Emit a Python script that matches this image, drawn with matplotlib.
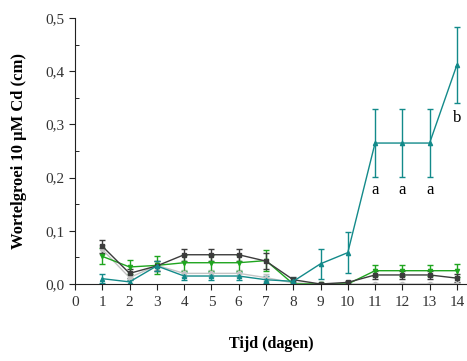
import numpy as np
import matplotlib
matplotlib.use("Agg")
import matplotlib.pyplot as plt
from matplotlib.ticker import FuncFormatter, MultipleLocator

plt.rcParams['font.family'] = ['Liberation Serif', 'DejaVu Serif']

dagen = [1, 2, 3, 4, 5, 6, 7, 8, 9, 10, 11, 12, 13, 14]

# light gray, circles
lichtgrijs = [0.065, 0.012, 0.035, 0.020, 0.020, 0.020, 0.012, 0.002, 0.0, 0.0, 0.0, 0.0, 0.0, 0.0]
lichtgrijs_err = [0.008, 0.005, 0.008, 0.006, 0.006, 0.006, 0.006, 0.003, 0.002, 0.002, 0.002, 0.002, 0.002, 0.002]

# green, down triangles
groen = [0.052, 0.032, 0.035, 0.040, 0.040, 0.040, 0.044, 0.0, 0.0, 0.0, 0.025, 0.025, 0.025, 0.025]
groen_err = [0.015, 0.014, 0.017, 0.015, 0.015, 0.015, 0.020, 0.002, 0.001, 0.001, 0.010, 0.010, 0.010, 0.012]

# dark gray, squares
donkergrijs = [0.071, 0.020, 0.034, 0.055, 0.055, 0.055, 0.043, 0.008, 0.0, 0.003, 0.017, 0.017, 0.017, 0.011]
donkergrijs_err = [0.012, 0.008, 0.010, 0.011, 0.011, 0.011, 0.015, 0.005, 0.001, 0.003, 0.008, 0.008, 0.008, 0.007]

# teal, up triangles
blauwgroen = [0.010, 0.004, 0.034, 0.015, 0.015, 0.015, 0.008, 0.005, 0.038, 0.059, 0.265, 0.265, 0.265, 0.412]
blauwgroen_err = [0.008, 0.004, 0.010, 0.007, 0.007, 0.007, 0.007, 0.006, 0.028, 0.038, 0.064, 0.064, 0.064, 0.072]

letters = ['a', 'a', 'a', 'b']
letter_x = [11, 12, 13, 14]
letter_y = [0.177, 0.177, 0.177, 0.313]

fig = plt.figure(figsize=(4.67, 3.61), dpi=100)
ax = fig.add_axes([0.1606, 0.2133, 0.8394, 0.7367])

series = [
    (lichtgrijs, lichtgrijs_err, '#c4c4c4', 'o'),
    (groen, groen_err, '#1fa51f', 'v'),
    (donkergrijs, donkergrijs_err, '#3c3c3c', 's'),
    (blauwgroen, blauwgroen_err, '#138a8a', '^'),
]
for vals, errs, kleur, mk in series:
    ax.errorbar(dagen, vals, yerr=errs, color=kleur, marker=mk, markersize=3,
                linewidth=1.0, elinewidth=1.0, capsize=2.5, capthick=1.0)

for t, x, y in zip(letters, letter_x, letter_y):
    ax.text(x, y, t, ha='center', va='center', fontsize=12)

ax.set_xlim(0, 14.37)
ax.set_ylim(0, 0.5)
ax.set_xticks(range(0, 15))
ax.yaxis.set_major_locator(MultipleLocator(0.1))
ax.yaxis.set_minor_locator(MultipleLocator(0.05))
ax.yaxis.set_major_formatter(FuncFormatter(lambda v, p: ('%.1f' % v).replace('.', ',')))
ax.tick_params(axis='both', which='major', direction='out', length=4, labelsize=11, colors='#222222')
ax.tick_params(axis='x', which='major', pad=5)
ax.tick_params(axis='y', which='minor', direction='in', length=3)
ax.spines['top'].set_visible(False)
ax.spines['right'].set_visible(False)
ax.spines['left'].set_color('#222222')
ax.spines['bottom'].set_color('#222222')
for lab in ax.get_xticklabels() + ax.get_yticklabels():
    lab.set_color('#333333')

ax.set_xlabel('Tijd (dagen)', fontsize=11.5, fontweight='bold', labelpad=19)
ax.set_ylabel('Wortelgroei 10 µM Cd (cm)', fontsize=12, fontweight='bold', labelpad=13)

fig.savefig('out.png', dpi=100)
